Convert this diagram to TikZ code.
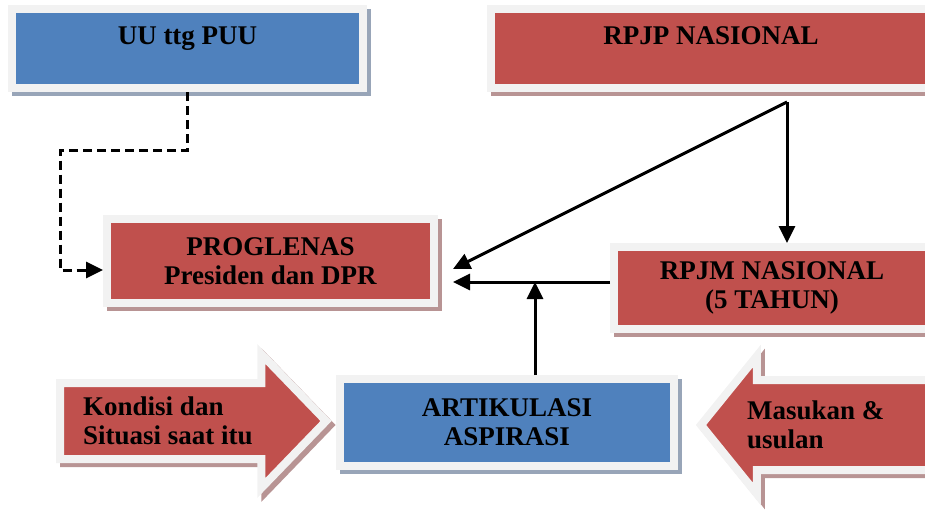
\documentclass[tikz,border=0pt]{standalone}
\usepackage{fontspec}
\setmainfont{Liberation Serif}
\usepackage{color}
\usepackage{tikz}
\usetikzlibrary{positioning}
\usetikzlibrary{shapes.arrows}
\usetikzlibrary{shadows}
\usetikzlibrary{arrows.meta}

\definecolor{boxblue}{HTML}{4F81BD}
\definecolor{boxred}{HTML}{C0504D}
\definecolor{rim}{HTML}{F2F2F2}
\definecolor{blueshade}{HTML}{98A5B8}
\definecolor{redshade}{HTML}{B89494}

\begin{document}
\begin{tikzpicture}[x=1pt, y=-1pt,
    txt/.style={font=\bfseries\fontsize{27}{29}\selectfont, align=center},
    box/.style={txt, draw=rim, line width=8pt, inner sep=0pt,
      general shadow={shadow xshift=4pt, shadow yshift=-4pt, draw=#1, fill=#1, line width=8pt}},
    bluebox/.style={box=blueshade, fill=boxblue},
    redbox/.style={box=redshade, fill=boxred},
    oneline/.style={text height=18pt, text depth=25pt},
    bigarrow/.style={single arrow, draw=rim, fill=boxred, line width=8pt, outer sep=0pt, line join=miter,
      inner xsep=0pt,
      general shadow={shadow xshift=4pt, shadow yshift=-4pt, draw=redshade, fill=redshade, line width=8pt}},
    conn/.style={-{Triangle[length=17pt, width=16pt]}, line width=3pt}]

  \useasboundingbox (0,0) rectangle (925,511);

  \node[bluebox, oneline, minimum width=351pt, minimum height=79pt] at (187.5,48.5) (uu) {UU ttg PUU};
  \node[redbox, oneline, minimum width=440pt, minimum height=79pt] at (711,48.5) (rpjp) {RPJP NASIONAL};
  \node[redbox, minimum width=327pt, minimum height=84pt] at (270.5,261) (proglenas) {PROGLENAS\\Presiden dan DPR};
  \node[redbox, minimum width=316pt, minimum height=82pt] at (772,288) (rpjm) {RPJM NASIONAL\\(5 TAHUN)};
  \node[bluebox, minimum width=334pt, minimum height=87pt] at (507,422.5) (artikulasi) {ARTIKULASI\\ASPIRASI};

  \node[bigarrow, inner ysep=34pt, minimum height=266pt, minimum width=126pt, single arrow head extend=29pt,
    single arrow tip angle=92, anchor=tail] at (60,421) (kondisi) {};
  \node[txt, align=left, inner sep=0pt, right=23pt of kondisi.tail] (kondisitext) {Kondisi dan\\Situasi saat itu};
  \node[bigarrow, inner ysep=41pt, shape border rotate=180, minimum height=259pt, minimum width=130pt,
    single arrow head extend=24pt, single arrow tip angle=102, anchor=tip] at (701,425) (masukan) {};
  \node[txt, align=left, inner sep=0pt, right=46pt of masukan.tip] (masukantext) {Masukan \&\\usulan};

  \coordinate (split) at (787,102);
  \coordinate (meet) at (535,282);
  \coordinate (bend) at (60,150);

  \draw[conn, dash pattern=on 9pt off 5pt] (uu.south) |- (bend) |- ([yshift=-9pt]proglenas.west);
  \draw[conn] (split) -- ([shift={(15,8)}]proglenas.east);
  \draw[conn] (split) -- (split |- rpjm.north);
  \draw[conn, shorten >=15pt] (rpjm.west |- meet) -- (proglenas.east |- meet);
  \draw[conn] (artikulasi.north -| meet) -- (meet);
\end{tikzpicture}
\end{document}
